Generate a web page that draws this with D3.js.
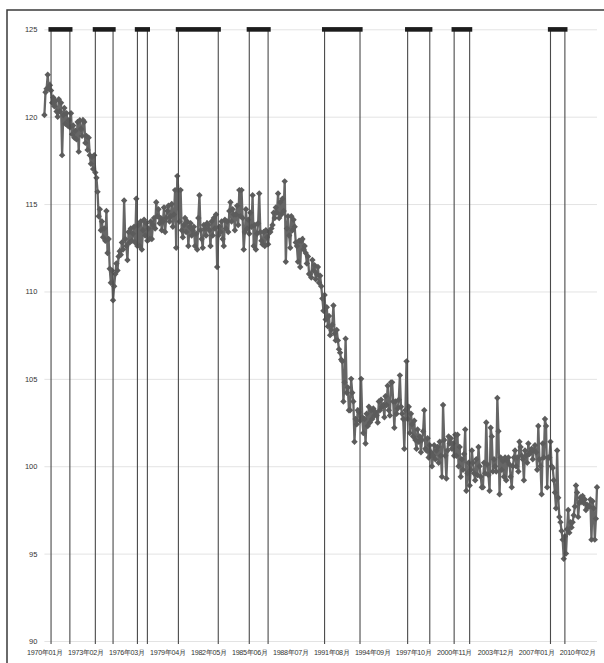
<!DOCTYPE html>
<html>
<head>
<meta charset="utf-8">
<script src="https://cdn.jsdelivr.net/npm/d3@7"></script>
<style>
  body { margin: 0; background: #fff; }
  svg { display: block; font-family: "Noto Sans CJK JP", "Noto Sans", sans-serif; }
</style>
</head>
<body>
<svg width="604" height="663"></svg>
<script>
// monthly index, 1970年01月 .. 2011年08月
var startYear = 1970;
var values = [
  120.1, 121.4, 121.6, 122.4, 121.6, 121.8, 121.5, 120.8, 121.1, 120.6, 120.9, 120.3, // 1970
  120.0, 121.0, 120.3, 120.8, 117.8, 120.1, 120.5, 119.6, 120.2, 119.5, 119.8, 119.4, // 1971
  120.2, 119.0, 119.5, 118.8, 119.2, 118.7, 119.7, 118.0, 119.8, 119.3, 118.9, 119.8, // 1972
  119.7, 118.5, 118.9, 118.1, 118.8, 117.8, 117.3, 117.7, 117.0, 117.8, 116.8, 116.5, // 1973
  115.7, 114.3, 114.7, 113.5, 114.0, 113.1, 113.6, 112.9, 114.6, 112.2, 113.0, 111.3, // 1974
  110.5, 111.2, 109.5, 110.3, 111.0, 111.6, 111.2, 112.0, 112.3, 112.1, 112.8, 112.4, // 1975
  115.2, 113.0, 112.6, 111.8, 113.4, 112.8, 113.6, 112.9, 113.3, 113.7, 112.8, 115.3, // 1976
  112.6, 113.8, 112.6, 114.0, 112.4, 113.5, 114.1, 113.2, 113.9, 112.9, 113.6, 113.0, // 1977
  114.0, 113.0, 113.8, 114.2, 113.6, 115.1, 114.3, 114.7, 113.9, 114.2, 113.5, 114.0, // 1978
  114.8, 113.4, 114.2, 114.6, 114.9, 114.0, 114.3, 115.0, 113.7, 114.4, 115.8, 112.5, // 1979
  116.6, 115.8, 114.0, 115.8, 113.5, 113.1, 113.8, 114.2, 113.4, 114.0, 112.6, 113.7, // 1980
  113.9, 113.2, 113.5, 113.7, 112.6, 113.3, 112.4, 114.2, 115.5, 113.5, 113.0, 112.5, // 1981
  113.8, 113.6, 113.2, 113.9, 113.8, 113.5, 112.6, 114.0, 113.2, 114.2, 113.6, 114.4, // 1982
  111.4, 113.2, 113.7, 113.4, 114.0, 113.0, 112.6, 114.1, 113.6, 114.0, 113.4, 114.6, // 1983
  115.1, 114.0, 114.7, 114.4, 113.5, 114.4, 114.9, 113.8, 115.8, 114.3, 115.8, 114.2, // 1984
  112.4, 113.4, 114.7, 113.6, 114.1, 113.3, 114.5, 113.7, 115.5, 112.6, 113.8, 112.4, // 1985
  113.3, 113.9, 115.6, 113.4, 112.9, 112.7, 113.4, 112.6, 113.5, 113.1, 112.7, 113.4, // 1986
  113.4, 113.6, 113.8, 114.5, 114.2, 114.8, 114.5, 115.6, 114.2, 115.1, 114.4, 115.3, // 1987
  114.6, 116.3, 111.7, 113.6, 114.3, 113.2, 112.5, 114.3, 113.5, 114.1, 113.7, 112.8, // 1988
  112.6, 111.7, 112.9, 111.4, 112.9, 113.0, 112.4, 112.6, 112.2, 111.6, 112.0, 111.0, // 1989
  111.0, 110.8, 111.8, 111.2, 111.5, 110.7, 111.0, 111.4, 110.5, 110.9, 110.3, 109.6, // 1990
  108.9, 109.8, 108.4, 109.1, 108.0, 108.6, 107.5, 107.8, 108.1, 109.2, 107.6, 107.2, // 1991
  107.8, 107.2, 106.7, 106.5, 106.1, 106.0, 103.7, 104.8, 107.3, 104.2, 104.5, 103.2, // 1992
  103.2, 105.0, 104.2, 103.7, 101.4, 102.7, 102.4, 103.2, 103.1, 102.6, 105.0, 102.8, // 1993
  101.9, 102.7, 101.3, 103.0, 102.3, 103.4, 102.5, 103.2, 102.7, 103.3, 102.9, 103.1, // 1994
  102.9, 102.5, 103.7, 103.2, 103.8, 103.4, 103.5, 102.8, 104.0, 103.5, 104.6, 103.2, // 1995
  102.9, 104.8, 104.8, 103.7, 102.2, 103.7, 103.0, 103.3, 103.8, 105.2, 103.4, 103.0, // 1996
  102.7, 101.0, 103.2, 106.0, 102.7, 103.4, 101.9, 103.0, 102.4, 101.7, 102.6, 101.5, // 1997
  101.0, 102.1, 101.4, 101.7, 100.8, 101.5, 102.0, 103.2, 101.0, 100.9, 101.6, 100.5, // 1998
  101.2, 100.8, 100.0, 100.6, 101.2, 100.4, 100.9, 101.1, 100.2, 101.4, 100.6, 99.4,  // 1999
  103.5, 101.5, 100.6, 99.3, 100.9, 101.7, 101.3, 101.6, 101.0, 101.3, 100.6, 101.8,  // 2000
  100.6, 101.8, 100.0, 101.1, 99.4, 100.4, 99.8, 100.7, 102.1, 98.6, 99.6, 100.2,     // 2001
  98.9, 99.8, 100.9, 100.2, 99.6, 99.2, 100.4, 99.5, 101.1, 100.0, 99.4, 98.8,        // 2002
  98.8, 100.2, 99.6, 102.5, 100.1, 99.5, 98.6, 102.2, 101.7, 99.7, 100.4, 100.0,      // 2003
  99.7, 103.9, 102.0, 98.4, 100.5, 99.8, 100.3, 99.4, 100.5, 99.2, 100.3, 100.5,      // 2004
  100.1, 99.4, 98.8, 100.0, 100.5, 100.9, 100.0, 100.5, 99.7, 101.4, 101.1, 100.6,    // 2005
  100.4, 99.2, 100.9, 100.6, 100.2, 101.3, 100.7, 100.8, 101.0, 100.4, 100.9, 101.2,  // 2006
  100.8, 99.8, 102.3, 100.4, 100.0, 98.4, 101.3, 100.5, 102.7, 102.3, 98.8, 100.5,    // 2007
  100.5, 101.4, 100.0, 99.9, 99.2, 98.5, 97.6, 100.9, 98.2, 97.1, 96.8, 96.3,         // 2008
  95.8, 94.7, 96.0, 95.0, 96.4, 97.5, 96.2, 96.8, 96.5, 96.8, 97.2, 97.7,             // 2009
  98.9, 98.5, 97.1, 97.9, 98.2, 98.0, 98.3, 97.9, 98.1, 97.5, 97.8, 97.7,             // 2010
  97.7, 98.1, 95.8, 98.0, 97.6, 95.8, 97.0, 98.8                                      // 2011
];

// recession periods (peak -> trough)
var peaks   = ["1970年07月", "1973年11月", "1977年01月", "1980年02月", "1985年06月", "1991年02月", "1997年05月", "2000年11月", "2008年02月"];
var troughs = ["1971年12月", "1975年03月", "1977年10月", "1983年02月", "1986年11月", "1993年10月", "1999年01月", "2002年01月", "2009年03月"];

var yTicks = [90, 95, 100, 105, 110, 115, 120, 125];
var xTickLabels = ["1970年01月", "1973年02月", "1976年03月", "1979年04月", "1982年05月", "1985年06月", "1988年07月",
                   "1991年08月", "1994年09月", "1997年10月", "2000年11月", "2003年12月", "2007年01月", "2010年02月"];

function monthLabel(i) {
  var yr = startYear + Math.floor(i / 12), mo = i % 12 + 1;
  return yr + "年" + (mo < 10 ? "0" : "") + mo + "月";
}
var data = values.map(function(v, i) { return {m: monthLabel(i), v: v}; });

var svg = d3.select("svg");
var plotL = 44.4, plotR = 597, plotT = 29.3, plotB = 641;

var x = d3.scalePoint().domain(data.map(function(d) { return d.m; })).range([plotL, plotR]);
var y = d3.scaleLinear().domain([90, 125]).range([plotB, plotT]);

// frame
svg.append("rect")
  .attr("x", 7).attr("y", 10).attr("width", 640).attr("height", 700)
  .attr("fill", "none").attr("stroke", "#3a3a3a").attr("stroke-width", 1.5);

// y axis with gridlines
var gy = svg.append("g")
  .attr("transform", "translate(" + plotL + ",0)")
  .call(d3.axisLeft(y).tickValues(yTicks).tickSize(-(plotR - plotL)).tickPadding(7));
gy.select(".domain").remove();
gy.selectAll(".tick line").attr("stroke", "#e3e3e3");
gy.selectAll(".tick text").attr("fill", "#333").style("font-size", "7.5px");

// x axis labels
var gx = svg.append("g")
  .attr("transform", "translate(0," + plotB + ")")
  .call(d3.axisBottom(x).tickValues(xTickLabels).tickSize(0).tickPadding(9));
gx.select(".domain").remove();
gx.selectAll(".tick text").attr("fill", "#333").style("font-size", "7.2px").style("letter-spacing", "-0.3px");

// data line
var line = d3.line()
  .x(function(d) { return x(d.m); })
  .y(function(d) { return y(d.v); });

svg.append("path")
  .datum(data)
  .attr("fill", "none")
  .attr("stroke", "#666")
  .attr("stroke-width", 2.3)
  .attr("d", line);

var diamond = {
  draw: function(ctx, size) {
    var r = Math.sqrt(size) * 0.63;
    ctx.moveTo(0, -r); ctx.lineTo(r, 0); ctx.lineTo(0, r); ctx.lineTo(-r, 0); ctx.closePath();
  }
};
svg.append("g").selectAll("path")
  .data(data)
  .enter().append("path")
  .attr("transform", function(d) { return "translate(" + x(d.m) + "," + y(d.v) + ")"; })
  .attr("d", d3.symbol().type(diamond).size(26))
  .attr("fill", "#5c5c5c");

// recession markers
var rec = svg.append("g");
peaks.forEach(function(p, i) {
  var t = troughs[i];
  [p, t].forEach(function(m) {
    rec.append("line")
      .attr("x1", x(m)).attr("x2", x(m))
      .attr("y1", y(125)).attr("y2", plotB + 3)
      .attr("stroke", "#4a4a4a").attr("stroke-width", 1.1);
  });
  rec.append("rect")
    .attr("x", x(p) - 2.6)
    .attr("y", y(125) - 2.2)
    .attr("width", x(t) - x(p) + 5.2)
    .attr("height", 4.6)
    .attr("fill", "#1c1c1c");
});
</script>
</body>
</html>
